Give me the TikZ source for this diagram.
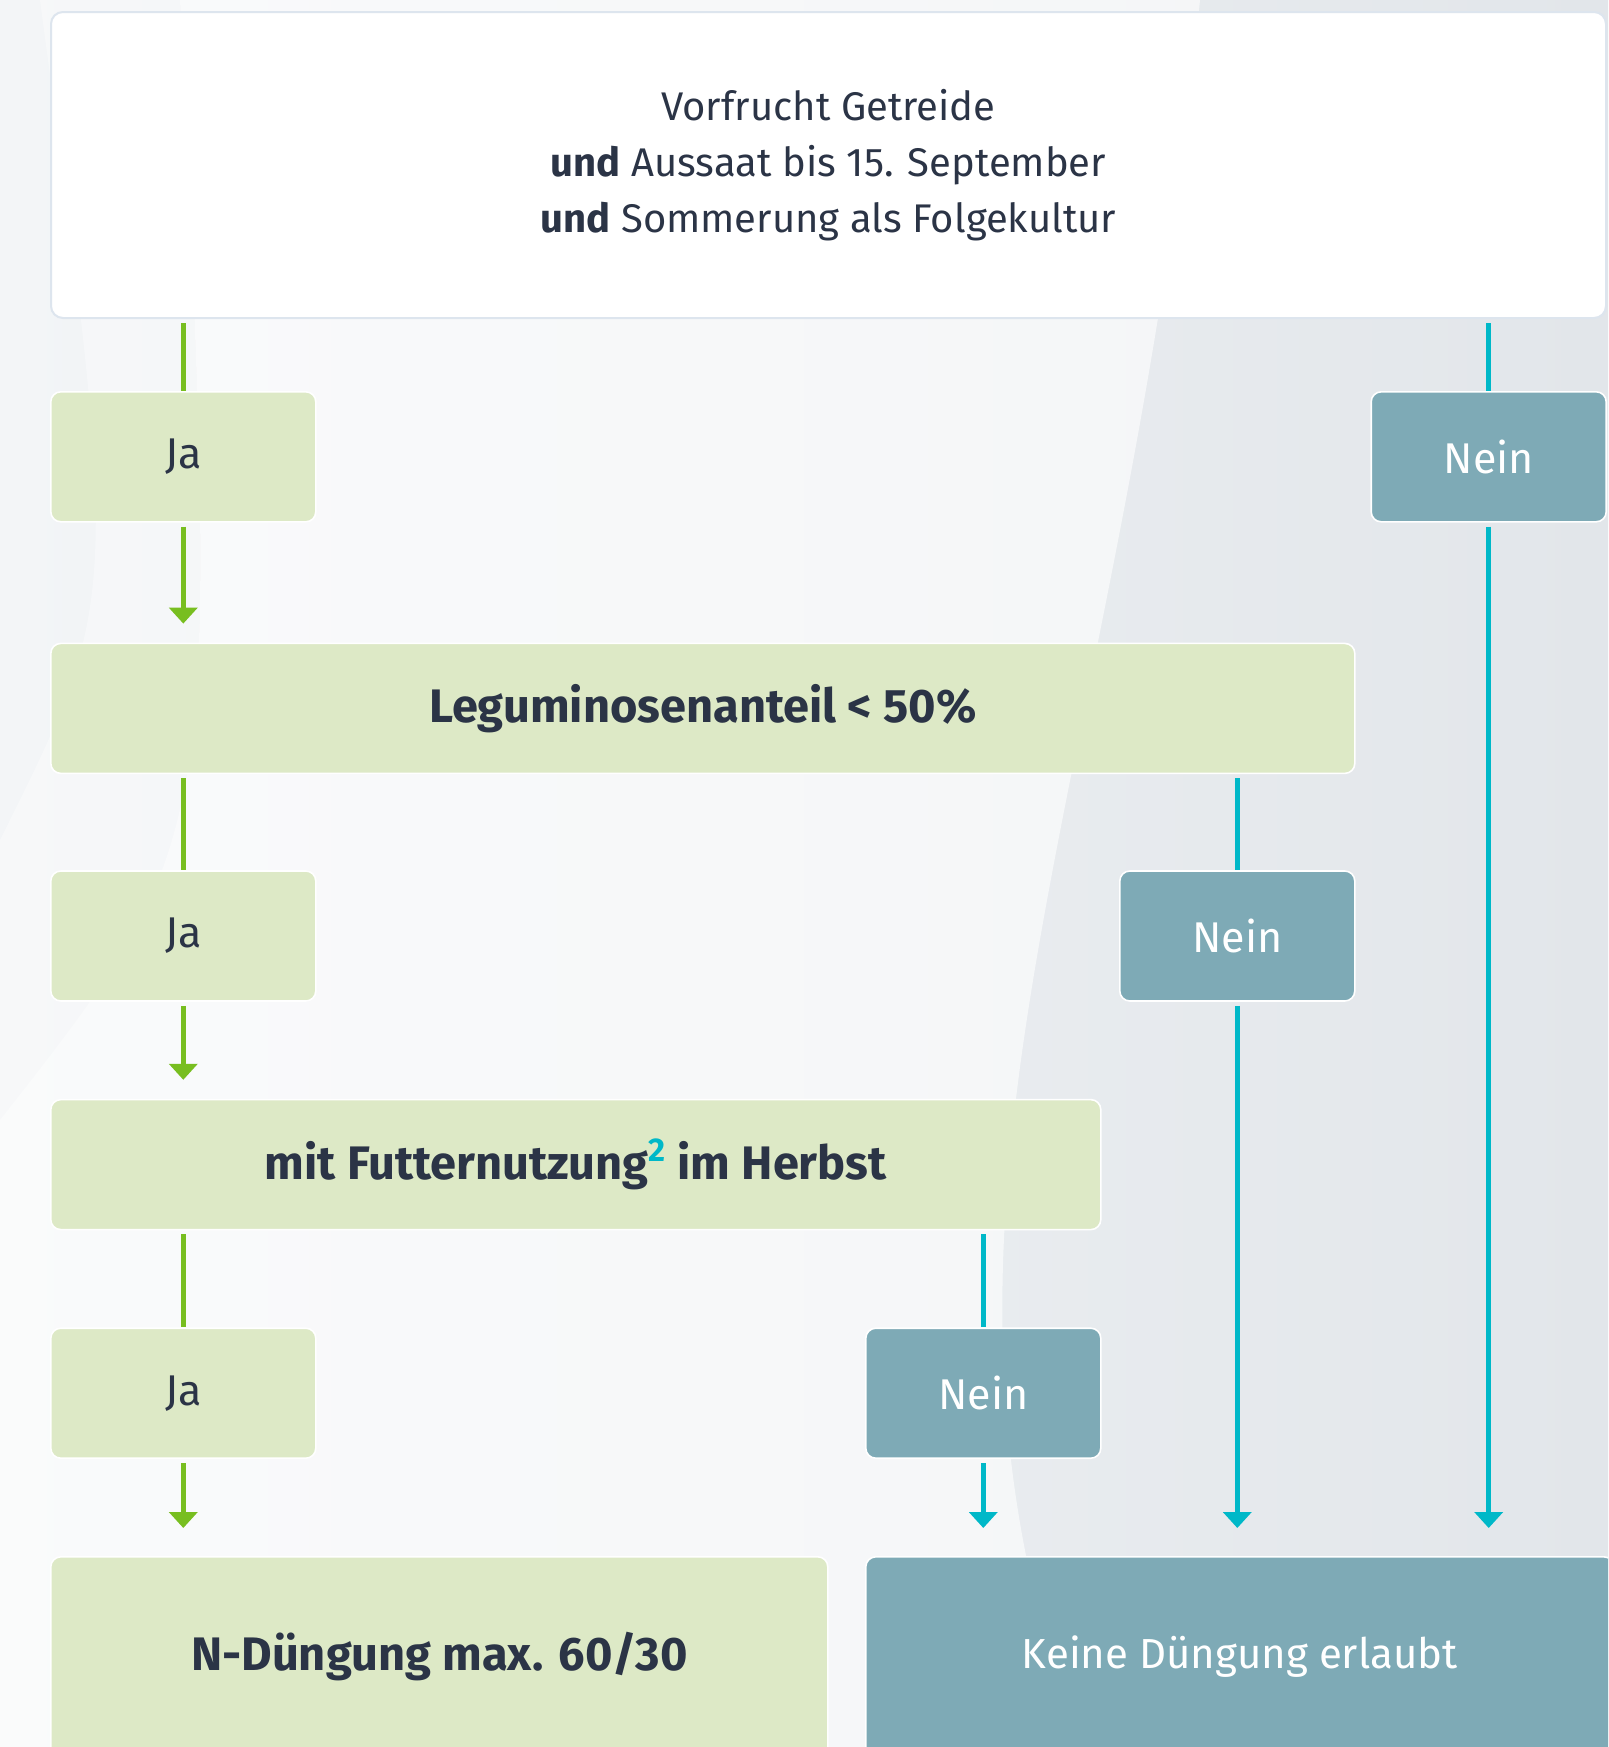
\documentclass[tikz,border=0pt]{standalone}
\usepackage{fontspec}
\setmainfont{Fira Sans}
\usetikzlibrary{arrows.meta, positioning}

\definecolor{jafill}{HTML}{DDE9C6}
\definecolor{neinfill}{HTML}{7EAAB6}
\definecolor{jaline}{HTML}{78BE20}
\definecolor{neinline}{HTML}{00B8C8}
\definecolor{textdark}{HTML}{2B3446}
\definecolor{framegray}{HTML}{DDE5EE}
\definecolor{bgleft}{HTML}{F3F5F7}
\definecolor{bgright}{HTML}{E2E6EA}

\begin{document}
\begin{tikzpicture}[
    every node/.style={font=\fontsize{21.5}{28}\selectfont, text=textdark},
    condbox/.style={rectangle, draw=framegray, line width=1pt, fill=white,
        minimum width=777.5pt, minimum height=153pt, align=center,
        rounded corners=6pt, font=\fontsize{20}{28}\selectfont},
    yesbox/.style={rectangle, draw=white, line width=0.8pt, fill=jafill,
        minimum width=132.5pt, minimum height=65pt, rounded corners=5pt},
    nobox/.style={rectangle, draw=white, line width=0.8pt, fill=neinfill,
        text=white, minimum width=117.5pt, minimum height=65pt,
        rounded corners=5pt},
    question/.style={rectangle, draw=white, line width=0.8pt, fill=jafill,
        minimum height=65pt, rounded corners=5pt,
        font=\fontsize{23.5}{28}\selectfont\bfseries},
    yesresult/.style={rectangle, draw=white, line width=0.8pt, fill=jafill,
        minimum width=388.5pt, minimum height=100pt, rounded corners=5pt,
        font=\fontsize{23.5}{28}\selectfont\bfseries},
    noresult/.style={rectangle, draw=white, line width=0.8pt, fill=neinfill,
        text=white, minimum width=374pt, minimum height=100pt,
        rounded corners=5pt, font=\fontsize{21}{28}\selectfont},
    yesline/.style={draw=jaline, line width=2.5pt, shorten <=2pt},
    yesarrow/.style={yesline, -{Triangle[length=8pt, width=14pt]}},
    noline/.style={draw=neinline, line width=2.5pt, shorten <=2pt},
    noarrow/.style={noline, -{Triangle[length=8pt, width=14pt]}},
]

\useasboundingbox (0,0) rectangle (804pt,-873.5pt);
\clip (0,0) rectangle (804pt,-873.5pt);
\shade[left color=bgleft, right color=bgright] (0,0) rectangle (804pt,-873.5pt);
\fill[white, opacity=0.6] (90pt,0) -- (600pt,0)
    .. controls (560pt,-400pt) and (440pt,-600pt) .. (540pt,-873.5pt)
    -- (0,-873.5pt) -- (0,-560pt) .. controls (110pt,-420pt) .. (90pt,0) -- cycle;
\fill[white, opacity=0.35] (0,-560pt) .. controls (110pt,-420pt) .. (90pt,0)
    -- (20pt,0) .. controls (60pt,-300pt) .. (0,-420pt) -- cycle;

\node[condbox, anchor=north west] (cond) at (25pt,-5.5pt)
    {Vorfrucht Getreide\\
     \textbf{und} Aussaat bis 15. September\\
     \textbf{und} Sommerung als Folgekultur};

\node[yesbox, below=36pt of cond.south west, anchor=north west] (ja1) {Ja};
\node[nobox, below=36pt of cond.south east, anchor=north east] (nein1) {Nein};
\node[question, minimum width=652pt, below=60pt of ja1.south west,
    anchor=north west] (legum) {Leguminosenanteil < 50\%};
\node[yesbox, below=48pt of legum.south west, anchor=north west] (ja2) {Ja};
\node[nobox, below=48pt of legum.south east, anchor=north east] (nein2) {Nein};
\node[question, minimum width=525pt, below=48.5pt of ja2.south west,
    anchor=north west] (futter)
    {mit Futternutzung\textsuperscript{\textcolor{neinline}{2}} im Herbst};
\node[yesbox, below=48.5pt of futter.south west, anchor=north west] (ja3) {Ja};
\node[nobox, below=48.5pt of futter.south east, anchor=north east] (nein3) {Nein};
\node[yesresult, below=48.5pt of ja3.south west, anchor=north west] (ndung)
    {N-Düngung max. 60/30};
\node[noresult, below=48.5pt of nein3.south west, anchor=north west] (keine)
    {Keine Düngung erlaubt};

% Ja-Zweig
\draw[yesline] (cond.south -| ja1.north) -- (ja1.north);
\draw[yesarrow, shorten >=9.5pt] (ja1.south) -- (ja1.south |- legum.north);
\draw[yesline] (legum.south -| ja2.north) -- (ja2.north);
\draw[yesarrow, shorten >=9.5pt] (ja2.south) -- (ja2.south |- futter.north);
\draw[yesline] (futter.south -| ja3.north) -- (ja3.north);
\draw[yesarrow, shorten >=14pt] (ja3.south) -- (ja3.south |- ndung.north);

% Nein-Zweig
\draw[noline] (cond.south -| nein1.north) -- (nein1.north);
\draw[noarrow, shorten >=14pt] (nein1.south) -- (nein1.south |- keine.north);
\draw[noline] (legum.south -| nein2.north) -- (nein2.north);
\draw[noarrow, shorten >=14pt] (nein2.south) -- (nein2.south |- keine.north);
\draw[noline] (futter.south -| nein3.north) -- (nein3.north);
\draw[noarrow, shorten >=14pt] (nein3.south) -- (nein3.south |- keine.north);

\end{tikzpicture}
\end{document}
